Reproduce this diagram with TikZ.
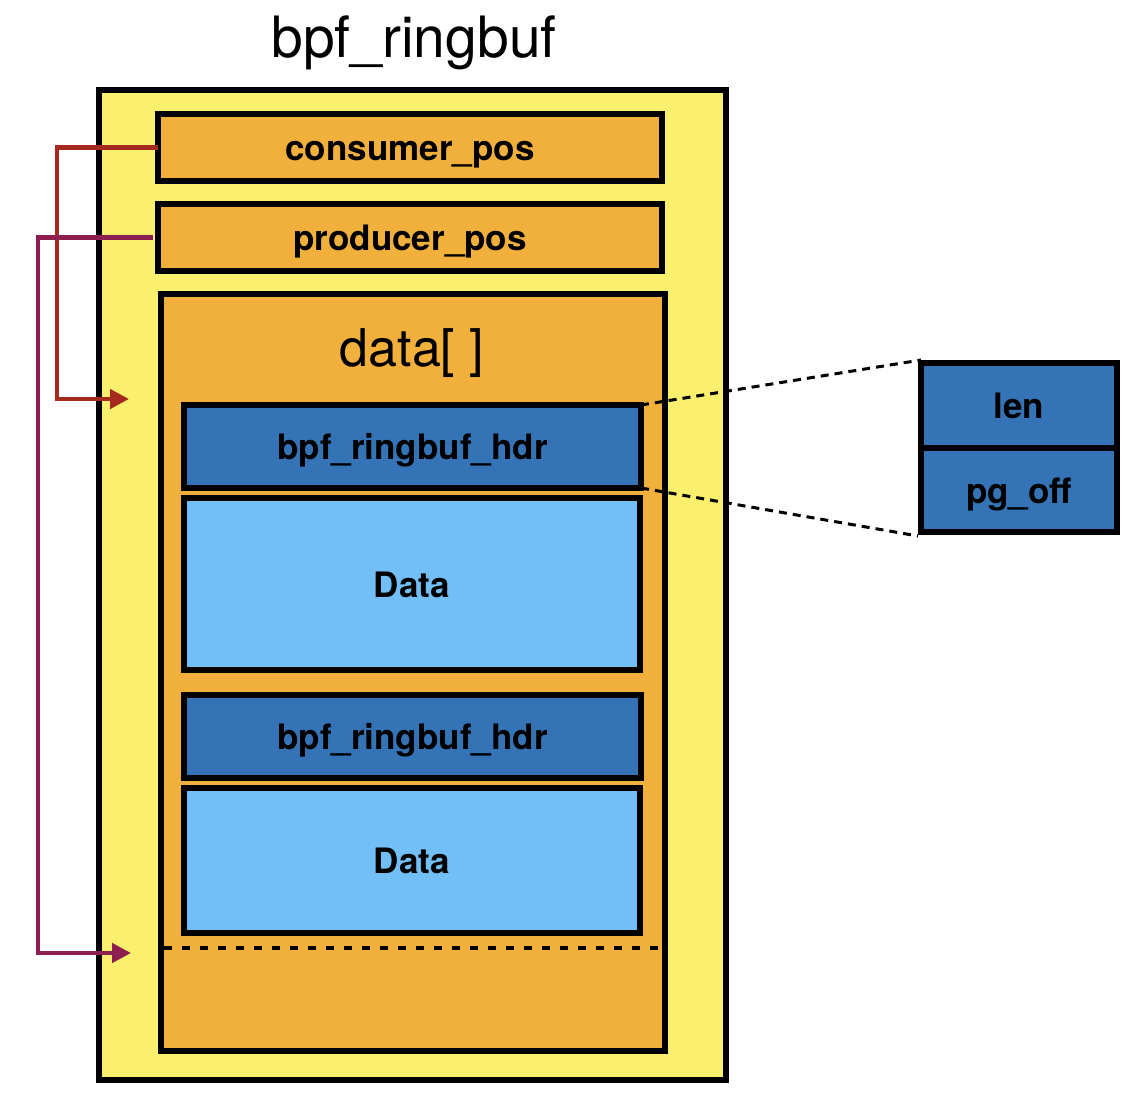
\documentclass[tikz,border=0pt]{standalone}
\usepackage{fontspec}
\setmainfont{TeX Gyre Heros}
\usetikzlibrary{arrows.meta}
\definecolor{yel}{HTML}{FBEF6E}
\definecolor{org}{HTML}{F1B03C}
\definecolor{dblue}{HTML}{3474B6}
\definecolor{lblue}{HTML}{72BFF8}
\definecolor{redl}{HTML}{A52A1D}
\definecolor{purl}{HTML}{8C1F50}
\tikzset{
  box/.style={draw=black, line width=6pt, rectangle, inner sep=0pt, outer sep=0pt,
    text height=26pt, text depth=0pt,
    font=\fontsize{35}{42}\selectfont\bfseries},
  conn/.style={line width=4.5pt, -{Triangle[length=19pt,width=19pt]}},
  dashl/.style={line width=3pt, dash pattern=on 8pt off 6pt},
  dotl/.style={line width=4pt, dash pattern=on 8pt off 10pt},
}
\begin{document}
\begin{tikzpicture}[x=1pt,y=-1pt]
\useasboundingbox (0,0) rectangle (1142,1104);
\node[font=\fontsize{57}{64}\selectfont, anchor=base, inner sep=0pt] (title) at (414,57) {bpf\_ringbuf};
\node[box, fill=yel, minimum width=627, minimum height=990] (outer) at (412.5,585) {};
\node[box, fill=org, minimum width=504, minimum height=67] (cons) at (410,147.5) {consumer\_pos};
\node[box, fill=org, minimum width=504, minimum height=67] (prod) at (410,237.5) {producer\_pos};
\node[box, fill=org, minimum width=504, minimum height=757] (data) at (413,672.5) {};
\node[font=\fontsize{52}{60}\selectfont, anchor=base, inner sep=0pt] (dlabel) at (412,366) {data[ ]};
\node[box, fill=dblue, minimum width=457, minimum height=83] (hdra) at (412.5,446.5) {bpf\_ringbuf\_hdr};
\node[box, fill=lblue, minimum width=456, minimum height=172] (dataa) at (412,584) {Data};
\node[box, fill=dblue, minimum width=457, minimum height=83] (hdrb) at (412.5,736.5) {bpf\_ringbuf\_hdr};
\node[box, fill=lblue, minimum width=456, minimum height=145] (datab) at (412,860.5) {Data};
\coordinate (dotL) at (164,948);
\coordinate (dotR) at (663,948);
\draw[dotl] (dotL) -- (dotR);
\node[box, fill=dblue, minimum width=196, minimum height=85] (lenbox) at (1019,405.5) {len};
\node[box, fill=dblue, minimum width=196, minimum height=84] (pgbox) at (1019,490) {pg\_off};
\draw[dashl] (hdra.north east) -- ([yshift=3pt]lenbox.north west);
\draw[dashl] (hdra.south east) -- ([yshift=-4pt,xshift=-3pt]pgbox.south west);
\coordinate (ctip) at (129,399);
\coordinate (ptip) at (131,953);
\draw[conn, redl] (cons.west) -- ++(-101,0) |- (ctip);
\draw[conn, purl] ([xshift=-5pt]prod.west) -- ++(-115,0) |- (ptip);
\end{tikzpicture}
\end{document}
